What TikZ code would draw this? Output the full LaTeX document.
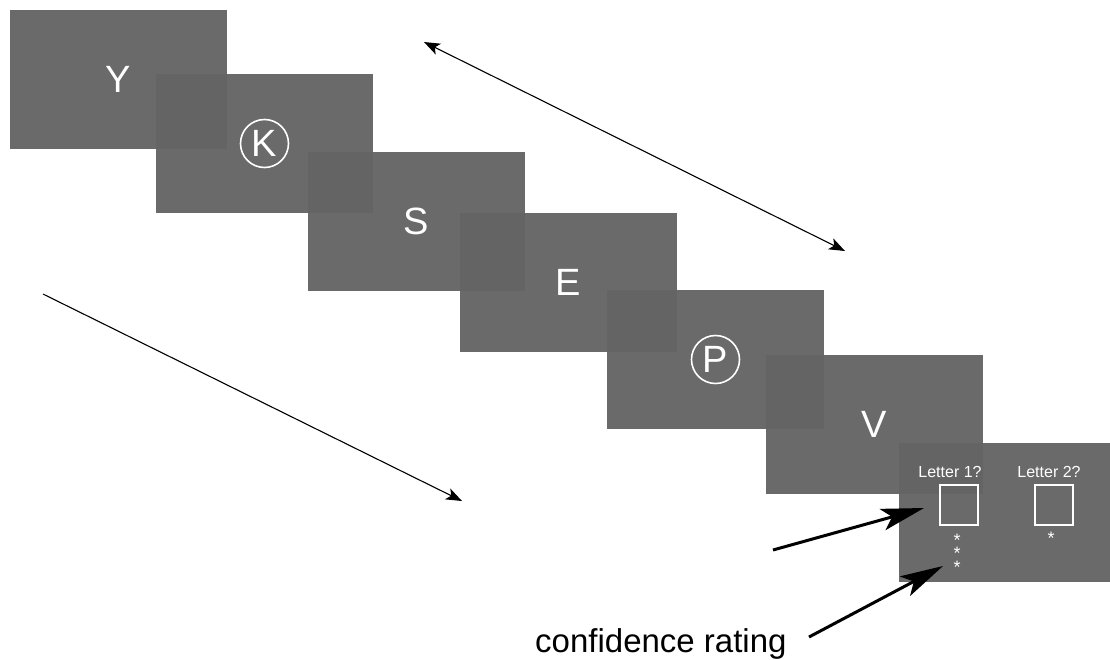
\documentclass[tikz,border=0pt]{standalone}
\usepackage{fontspec}
\setmainfont{Liberation Sans}
\usetikzlibrary{arrows.meta}
\definecolor{scr}{RGB}{100,100,100}
\begin{document}
\begin{tikzpicture}[x=1pt,y=-1pt,
  screen/.style={fill=scr, fill opacity=0.955, draw=none, inner sep=0pt, outer sep=0pt, anchor=north west, minimum width=217pt, minimum height=139pt},
  bigletter/.style={text=white, font=\fontsize{38}{40}\selectfont, inner sep=0pt},
  ring/.style={circle, draw=white, line width=1.6pt, minimum size=48pt, inner sep=0pt},
  small/.style={text=white, font=\fontsize{16}{18}\selectfont, inner sep=0pt},
  qbox/.style={draw=white, line width=1.5pt, minimum width=38pt, minimum height=40pt, inner sep=0pt, anchor=north west},
  starmark/.style={text=white, font=\fontsize{18}{18}\selectfont, inner sep=0pt, anchor=base},
  thinarrow/.style={line width=1.1pt},
  thickarrow/.style={line width=3pt, -{Stealth[length=43pt,width=22pt,inset=10pt]}}]
\useasboundingbox (0,0) rectangle (1110,659);
\fill[white] (0,0) rectangle (1110,659);
% screens
\node[screen] (s1) at (10,10) {};
\node[screen] (s2) at (156,74) {};
\node[screen] (s3) at (308,152) {};
\node[screen] (s4) at (460,213) {};
\node[screen] (s5) at (607,290) {};
\node[screen] (s6) at (766,355) {};
\node[screen, minimum width=211pt] (s7) at (899,443) {};
% letters
\node[bigletter] (l1) at (s1.center) {Y};
\node[bigletter, ring] (l2) at (s2.center) {K};
\node[bigletter] (l3) at (s3.center) {S};
\node[bigletter] (l4) at (s4.center) {E};
\node[bigletter, ring] (l5) at (s5.center) {P};
\node[bigletter] (l6) at (s6.center) {V};
% response screen
\node[small] (q1) at (950,472) {Letter 1?};
\node[small] (q2) at (1049,472) {Letter 2?};
\node[qbox] (b1) at (939,484) {};
\node[qbox] (b2) at (1034,484) {};
\node[starmark] (st1) at (957,546) {*};
\node[starmark] (st2) at (957,559.5) {*};
\node[starmark] (st3) at (957,573) {*};
\node[starmark] (st4) at (1051,544) {*};
% label
\node[anchor=base west, inner sep=0pt, font=\fontsize{33}{36}\selectfont] (lab) at (535,652) {confidence rating};
% arrows
\coordinate (d1) at (424,42);
\coordinate (d2) at (845,251);
\coordinate (t1) at (43,294);
\coordinate (t2) at (462,501);
\coordinate (a1s) at (773,550);
\coordinate (a1e) at (924,508);
\coordinate (a2s) at (809,637);
\coordinate (a2e) at (943,566);
\draw[thinarrow, {Stealth[length=16pt,width=12pt,inset=4pt]}-{Stealth[length=16pt,width=12pt,inset=4pt]}] (d1) -- (d2);
\draw[thinarrow, -{Stealth[length=16pt,width=12pt,inset=4pt]}] (t1) -- (t2);
\draw[thickarrow] (a1s) -- (a1e);
\draw[thickarrow] (a2s) -- (a2e);
\end{tikzpicture}
\end{document}
